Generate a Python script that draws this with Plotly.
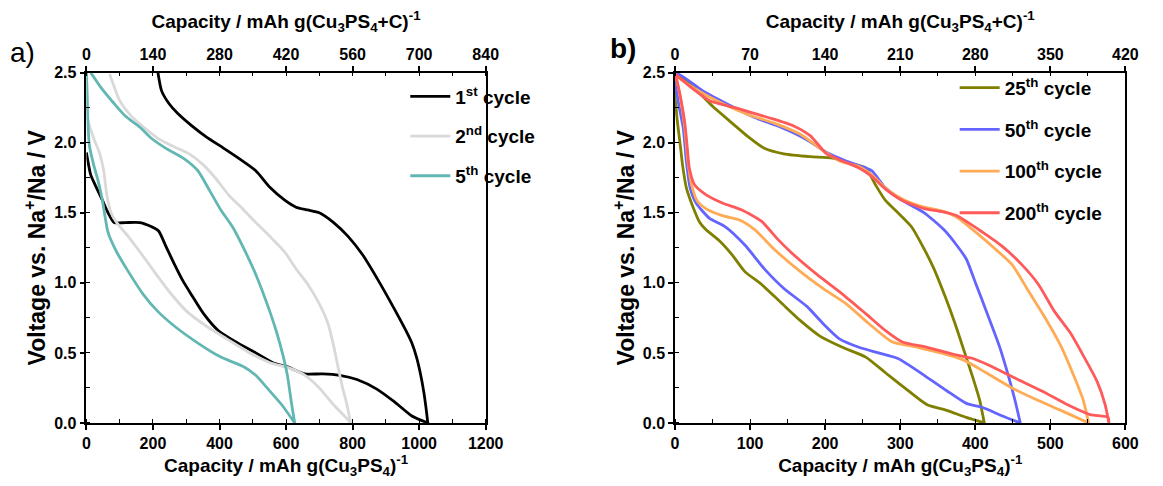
import plotly.graph_objects as go

# ---------------- Panel a data ----------------
c1_dis_cap = [0, 13, 30, 48, 65, 83, 117, 161, 196, 217, 239, 265, 291, 317, 352, 396, 448, 509, 561, 604, 657, 709, 761, 813, 874, 926, 978, 1026]
c1_dis_v = [1.93, 1.77, 1.68, 1.59, 1.50, 1.43, 1.43, 1.43, 1.40, 1.37, 1.26, 1.13, 1.01, 0.91, 0.78, 0.66, 0.58, 0.50, 0.43, 0.40, 0.35, 0.35, 0.34, 0.31, 0.24, 0.15, 0.05, 0.0]
c1_chg_cap = [1026, 1021, 1014, 1004, 992, 978, 960, 940, 917, 874, 830, 787, 743, 700, 665, 630, 596, 552, 509, 457, 413, 361, 317, 274, 248, 226, 215]
c1_chg_v = [0.0, 0.10, 0.22, 0.35, 0.47, 0.57, 0.66, 0.75, 0.85, 1.03, 1.20, 1.33, 1.43, 1.50, 1.52, 1.54, 1.59, 1.68, 1.80, 1.89, 1.96, 2.04, 2.12, 2.21, 2.28, 2.37, 2.50]

c2_dis_cap = [0, 2, 4, 22, 39, 52, 61, 74, 91, 126, 161, 204, 248, 300, 361, 422, 491, 552, 613, 657, 700, 743, 787, 794]
c2_dis_v = [2.50, 2.35, 2.17, 2.03, 1.93, 1.80, 1.63, 1.50, 1.43, 1.33, 1.22, 1.08, 0.94, 0.80, 0.69, 0.60, 0.50, 0.43, 0.39, 0.34, 0.25, 0.13, 0.02, 0.0]
c2_chg_cap = [794, 783, 770, 757, 743, 726, 700, 665, 630, 596, 552, 509, 465, 430, 387, 352, 309, 265, 222, 178, 135, 100, 70]
c2_chg_v = [0.0, 0.13, 0.25, 0.39, 0.55, 0.71, 0.85, 0.99, 1.10, 1.22, 1.33, 1.43, 1.54, 1.62, 1.75, 1.84, 1.92, 1.97, 2.02, 2.10, 2.19, 2.30, 2.49]

c5_dis_cap = [0, 2, 4, 9, 22, 35, 48, 65, 91, 126, 170, 213, 265, 335, 404, 474, 509, 543, 587, 626]
c5_dis_v = [2.50, 2.35, 2.17, 1.98, 1.84, 1.73, 1.59, 1.36, 1.22, 1.08, 0.92, 0.80, 0.69, 0.57, 0.47, 0.40, 0.34, 0.25, 0.13, 0.0]
c5_chg_cap = [626, 617, 604, 591, 570, 543, 509, 474, 439, 404, 370, 335, 291, 239, 196, 161, 117, 83, 48, 13]
c5_chg_v = [0.0, 0.13, 0.34, 0.48, 0.66, 0.85, 1.06, 1.24, 1.40, 1.52, 1.66, 1.80, 1.89, 1.96, 2.03, 2.11, 2.19, 2.28, 2.38, 2.50]

# ---------------- Panel b data ----------------
c25_dis_cap = [0, 2, 7, 10, 15, 24, 33, 41, 59, 76, 93, 115, 141, 167, 193, 223, 254, 280, 306, 336, 362, 388, 412]
c25_dis_v = [2.50, 2.21, 1.98, 1.84, 1.68, 1.54, 1.43, 1.38, 1.30, 1.20, 1.08, 0.99, 0.86, 0.73, 0.62, 0.54, 0.47, 0.36, 0.25, 0.13, 0.09, 0.04, 0.0]
c25_chg_cap = [412, 406, 397, 386, 373, 360, 345, 332, 315, 297, 280, 267, 254, 236, 210, 180, 145, 119, 98, 76, 50, 24, 0]
c25_chg_v = [0.0, 0.16, 0.32, 0.50, 0.71, 0.90, 1.10, 1.24, 1.40, 1.50, 1.59, 1.70, 1.82, 1.85, 1.89, 1.90, 1.92, 1.96, 2.04, 2.14, 2.26, 2.40, 2.50]

c50_dis_cap = [0, 4, 11, 15, 20, 28, 46, 67, 93, 119, 145, 176, 197, 219, 245, 271, 297, 332, 362, 388, 410, 436, 460]
c50_dis_v = [2.50, 2.30, 2.10, 1.87, 1.68, 1.57, 1.46, 1.40, 1.27, 1.10, 0.96, 0.83, 0.71, 0.60, 0.54, 0.50, 0.46, 0.34, 0.23, 0.14, 0.11, 0.05, 0.0]
c50_chg_cap = [460, 453, 445, 432, 416, 401, 388, 375, 358, 332, 302, 280, 262, 249, 228, 202, 176, 141, 106, 72, 37, 0]
c50_chg_v = [0.0, 0.16, 0.32, 0.55, 0.78, 0.99, 1.17, 1.27, 1.38, 1.50, 1.59, 1.68, 1.80, 1.83, 1.87, 1.93, 2.02, 2.11, 2.18, 2.27, 2.37, 2.50]

c100_dis_cap = [0, 7, 13, 17, 22, 30, 41, 63, 85, 106, 132, 167, 197, 228, 258, 289, 323, 354, 384, 414, 449, 484, 514, 551]
c100_dis_v = [2.50, 2.33, 2.10, 1.87, 1.70, 1.58, 1.53, 1.48, 1.45, 1.38, 1.24, 1.08, 0.96, 0.85, 0.71, 0.58, 0.54, 0.50, 0.45, 0.36, 0.25, 0.16, 0.09, 0.0]
c100_chg_cap = [551, 544, 531, 514, 492, 471, 449, 427, 401, 375, 358, 332, 306, 284, 262, 245, 219, 193, 167, 132, 98, 63, 28, 0]
c100_chg_v = [0.0, 0.16, 0.34, 0.55, 0.76, 0.94, 1.13, 1.24, 1.36, 1.47, 1.51, 1.54, 1.59, 1.66, 1.77, 1.83, 1.87, 1.96, 2.06, 2.14, 2.20, 2.28, 2.38, 2.48]

c200_dis_cap = [0, 7, 13, 16, 19, 26, 41, 63, 89, 115, 137, 154, 189, 223, 254, 280, 302, 336, 371, 397, 419, 453, 488, 523, 553, 577, 578]
c200_dis_v = [2.50, 2.33, 2.14, 1.98, 1.82, 1.70, 1.63, 1.57, 1.52, 1.44, 1.31, 1.22, 1.06, 0.92, 0.78, 0.66, 0.58, 0.54, 0.49, 0.46, 0.41, 0.32, 0.23, 0.13, 0.06, 0.04, 0.0]
c200_chg_cap = [578, 573, 562, 544, 527, 505, 484, 462, 436, 410, 375, 354, 332, 302, 280, 262, 245, 223, 202, 180, 158, 124, 80, 46, 20, 0]
c200_chg_v = [0.0, 0.13, 0.30, 0.48, 0.64, 0.80, 0.99, 1.13, 1.26, 1.36, 1.48, 1.51, 1.53, 1.59, 1.67, 1.76, 1.82, 1.87, 1.92, 2.05, 2.12, 2.18, 2.25, 2.30, 2.40, 2.49]

# ---------------- Labels ----------------
names_a = ["1<sup>st</sup> cycle", "2<sup>nd</sup> cycle", "5<sup>th</sup> cycle"]
names_b = ["25<sup>th</sup> cycle", "50<sup>th</sup> cycle", "100<sup>th</sup> cycle", "200<sup>th</sup> cycle"]
colors_a = ["#000000", "#d9d9d9", "#62b7b3"]
colors_b = ["#7f7f00", "#6464ff", "#ffaa55", "#ff5a5a"]

title_bottom = "Capacity / mAh g(Cu<sub>3</sub>PS<sub>4</sub>)<sup>-1</sup>"
title_top = "Capacity / mAh g(Cu<sub>3</sub>PS<sub>4</sub>+C)<sup>-1</sup>"
title_y = "Voltage vs. Na<sup>+</sup>/Na / V"

FONT = "Liberation Sans"
LW = 2.8

fig = go.Figure()

curves_a = [(c1_dis_cap, c1_dis_v, c1_chg_cap, c1_chg_v),
            (c2_dis_cap, c2_dis_v, c2_chg_cap, c2_chg_v),
            (c5_dis_cap, c5_dis_v, c5_chg_cap, c5_chg_v)]
curves_b = [(c25_dis_cap, c25_dis_v, c25_chg_cap, c25_chg_v),
            (c50_dis_cap, c50_dis_v, c50_chg_cap, c50_chg_v),
            (c100_dis_cap, c100_dis_v, c100_chg_cap, c100_chg_v),
            (c200_dis_cap, c200_dis_v, c200_chg_cap, c200_chg_v)]

for i, (dc, dv, cc, cv) in enumerate(curves_a):
    fig.add_trace(go.Scatter(x=dc + cc, y=dv + cv, mode="lines", name=names_a[i],
                             line=dict(color=colors_a[i], width=LW, shape="spline", smoothing=0.6),
                             xaxis="x", yaxis="y", legend="legend", legendgroup="a%d" % i))
for i, (dc, dv, cc, cv) in enumerate(curves_b):
    fig.add_trace(go.Scatter(x=dc + cc, y=dv + cv, mode="lines", name=names_b[i],
                             line=dict(color=colors_b[i], width=LW, shape="spline", smoothing=0.6),
                             xaxis="x3", yaxis="y2", legend="legend2", legendgroup="b%d" % i))

# empty traces so that the secondary (top) capacity axes are rendered
for ax, yy in (("x2", "y"), ("x4", "y2")):
    fig.add_trace(go.Scatter(x=[0], y=[None], mode="lines", xaxis=ax, yaxis=yy,
                             showlegend=False, hoverinfo="skip"))

tickfont = dict(family=FONT, size=16, color="black", weight="bold")
titlefont = dict(family=FONT, size=19, color="black", weight="bold")
ytitlefont = dict(family=FONT, size=23, color="black", weight="bold")

def xax(domain, rng, dtick, title, side, anchor, overlaying=None, standoff=2):
    d = dict(range=rng, dtick=dtick, tick0=0, side=side, anchor=anchor,
             showgrid=False, zeroline=False, showline=True, linecolor="black", linewidth=1.5,
             ticks="outside", ticklen=5, tickwidth=1.5, tickcolor="black",
             minor=dict(dtick=dtick / 2, ticks="inside", ticklen=4, tickwidth=1.2, tickcolor="black", showgrid=False),
             tickfont=tickfont, title=dict(text=title, font=titlefont, standoff=standoff))
    if overlaying:
        d["overlaying"] = overlaying
    else:
        d["domain"] = domain
    return d

def yax(domain, anchor):
    return dict(range=[0, 2.5], dtick=0.5, tick0=0, domain=domain, anchor=anchor, tickformat=".1f",
                showgrid=False, zeroline=False, showline=True, mirror=True, linecolor="black", linewidth=1.5,
                ticks="outside", ticklen=5, tickwidth=1.5, tickcolor="black",
                minor=dict(dtick=0.25, ticks="inside", ticklen=4, tickwidth=1.2, tickcolor="black", showgrid=False),
                tickfont=tickfont, title=dict(text=title_y, font=ytitlefont, standoff=2))

W, H = 1163, 486
ydom = [1 - 430 / H, 1 - 67 / H]
xa = [84 / W, 491 / W]
xb = [684 / W, 1143 / W]

fig.update_layout(
    width=W, height=H, margin=dict(l=0, r=0, t=0, b=0),
    paper_bgcolor="white", plot_bgcolor="white",
    font=dict(family=FONT, color="black"),
    xaxis=xax(xa, [0, 1200], 200, title_bottom, "bottom", "y"),
    xaxis2=xax(None, [0, 840], 140, title_top, "top", "y", overlaying="x", standoff=12),
    yaxis=yax(ydom, "x"),
    xaxis3=xax(xb, [0, 600], 100, title_bottom, "bottom", "y2"),
    xaxis4=xax(None, [0, 420], 70, title_top, "top", "y2", overlaying="x3", standoff=12),
    yaxis2=yax(ydom, "x3"),
    legend=dict(x=409 / W, y=1 - 72 / H, xanchor="left", yanchor="top", bgcolor="rgba(0,0,0,0)",
                font=dict(family=FONT, size=19, color="black", weight="bold"), tracegroupgap=12,
                itemwidth=40),
    legend2=dict(x=969 / W, y=1 - 63 / H, xanchor="left", yanchor="top", bgcolor="rgba(0,0,0,0)",
                 font=dict(family=FONT, size=19, color="black", weight="bold"), tracegroupgap=14,
                 itemwidth=40),
    annotations=[
        dict(text="a)", x=4 / W, y=1 - 46 / H, xref="paper", yref="paper", xanchor="left", yanchor="middle",
             showarrow=False, font=dict(family=FONT, size=28, color="black")),
        dict(text="b)", x=616 / W, y=1 - 42 / H, xref="paper", yref="paper", xanchor="left", yanchor="middle",
             showarrow=False, font=dict(family=FONT, size=28, color="black", weight="bold")),
    ],
)

fig.write_html("out.html")
